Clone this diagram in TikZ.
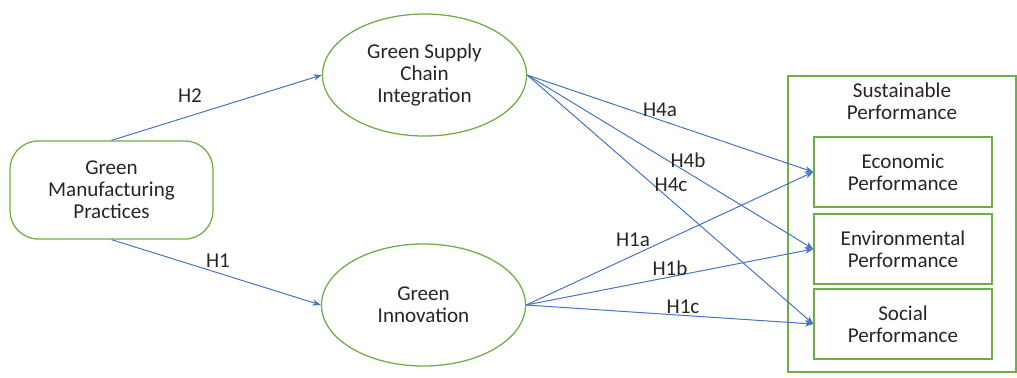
\documentclass[tikz,border=0pt]{standalone}
\usepackage{fontspec}
\setmainfont{Carlito}
\usetikzlibrary{shapes.geometric,arrows.meta}
\definecolor{leaf}{HTML}{70AD47}
\definecolor{link}{HTML}{4472C4}
\definecolor{ink}{HTML}{262626}
\tikzset{
  every node/.style={text=ink,font=\fontsize{15}{15.6}\selectfont,align=center},
  construct/.style={draw=leaf,line width=0.9pt,ellipse,inner sep=0pt,minimum width=5.1cm,minimum height=3.05cm},
  dimbox/.style={draw=leaf,line width=0.9pt,inner sep=0pt,minimum width=4.45cm,minimum height=1.75cm},
  path/.style={draw=link,line width=0.7pt,-{Stealth[length=6pt,width=4.5pt]}},
  hyp/.style={inner sep=1pt}
}
\begin{document}
\begin{tikzpicture}[x=0.025cm,y=-0.025cm]
\useasboundingbox (0,0) rectangle (1017,377);
% outer frame for the three outcome dimensions
\draw[leaf,line width=0.9pt] (788,76) rectangle (1016,372);
\node (sp) at (902,101) {Sustainable\\Performance};
\node[draw=leaf,line width=0.9pt,rounded corners=20pt,minimum width=5.07cm,minimum height=2.45cm] (gmp) at (111.5,190) {Green\\Manufacturing\\Practices};
\node[construct] (gsci) at (424.5,75) {Green Supply\\Chain\\Integration};
\node[construct] (gi) at (423.5,305) {Green\\Innovation};
\node[dimbox] (econ) at (903,172) {Economic\\Performance};
\node[dimbox] (env) at (903,249) {Environmental\\Performance};
\node[dimbox] (soc) at (903,324) {Social\\Performance};
% hypothesised paths
\draw[path] (gmp.north) -- (gsci.west);
\draw[path] (gmp.south) -- (gi.west);
\draw[path] (gsci.east) -- (econ.west);
\draw[path] (gsci.east) -- (env.west);
\draw[path] (gsci.east) -- (soc.west);
\draw[path] (gi.east) -- (econ.west);
\draw[path] (gi.east) -- (env.west);
\draw[path] (gi.east) -- (soc.west);
% labels
\node[hyp] (h2) at (190,96) {H2};
\node[hyp] (h1) at (218,261) {H1};
\node[hyp] (h4a) at (660,110) {H4a};
\node[hyp] (h4b) at (688,160) {H4b};
\node[hyp] (h4c) at (671,185) {H4c};
\node[hyp] (h1a) at (633,240) {H1a};
\node[hyp] (h1b) at (670,268) {H1b};
\node[hyp] (h1c) at (683,307) {H1c};
\end{tikzpicture}
\end{document}
